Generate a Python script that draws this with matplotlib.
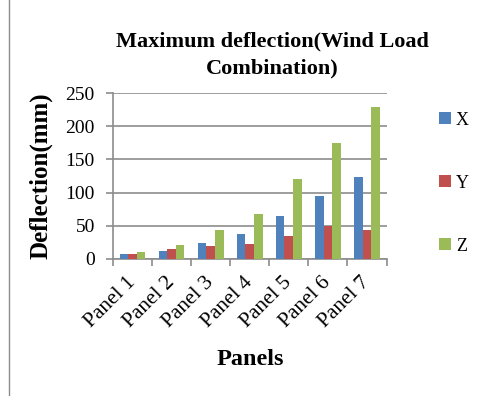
import matplotlib.pyplot as plt
import matplotlib.transforms as mtransforms
import numpy as np

panels = ["Panel 1", "Panel 2", "Panel 3", "Panel 4", "Panel 5", "Panel 6", "Panel 7"]
x_vals = [8, 12, 24, 38, 65, 95, 123]
y_vals = [8, 15, 20, 23, 35, 50, 44]
z_vals = [10, 21, 43, 68, 120, 175, 229]

plt.rcParams["font.family"] = ["Liberation Serif", "DejaVu Serif"]

fig = plt.figure(figsize=(4.93, 3.96), dpi=100)
ax = fig.add_axes([0.229, 0.346, 0.555, 0.419])

pos = np.arange(len(panels))
w = 0.22
ax.bar(pos - w, x_vals, w, color="#4F81BD", label="X", zorder=3)
ax.bar(pos, y_vals, w, color="#C0504D", label="Y", zorder=3)
ax.bar(pos + w, z_vals, w, color="#9BBB59", label="Z", zorder=3)

ax.set_ylim(0, 250)
ax.set_yticks(range(0, 251, 50))
ax.set_xlim(-0.5, len(panels) - 0.5)
ax.yaxis.grid(True, color="#8c8c8c", linewidth=1.2, zorder=0)
ax.set_xticks(np.arange(len(panels) + 1) - 0.5, minor=False)
ax.set_xticklabels([])
ax.set_xticks(pos, minor=True)
ax.set_xticklabels(panels, minor=True, rotation=45, ha="right", va="center",
                   rotation_mode="anchor", fontsize=15.5)
shift = mtransforms.ScaledTranslation(4 / 72, 0, fig.dpi_scale_trans)
for lbl in ax.get_xticklabels(minor=True):
    lbl.set_transform(lbl.get_transform() + shift)
ax.tick_params(axis="x", which="minor", length=0, pad=15)
ax.tick_params(axis="x", which="major", length=5, color="#8c8c8c", width=1.2)
ax.tick_params(axis="y", length=5, color="#8c8c8c", width=1.2, labelsize=14, pad=8)
for s in ["top", "right"]:
    ax.spines[s].set_visible(False)
for s in ["left", "bottom"]:
    ax.spines[s].set_color("#8c8c8c")
    ax.spines[s].set_linewidth(1.2)

fig.text(0.553, 0.862, "Maximum deflection(Wind Load\nCombination)", ha="center", va="center",
         fontsize=16, fontweight="bold", linespacing=1.45)
fig.text(0.082, 0.557, "Deflection(mm)", rotation=90, ha="center", va="center",
         fontsize=18, fontweight="bold")
fig.text(0.507, 0.092, "Panels", ha="center", va="center", fontsize=17.5, fontweight="bold")

fig.legend(loc="upper left", bbox_to_anchor=(0.89, 0.718), frameon=False, fontsize=13,
           handlelength=0.65, handleheight=0.65, labelspacing=2.55, handletextpad=0.3,
           borderpad=0, borderaxespad=0)

fig.add_artist(plt.Line2D([0.018, 0.018], [0, 1], color="#8c8c8c", linewidth=1))

fig.savefig("out.png", dpi=100)
